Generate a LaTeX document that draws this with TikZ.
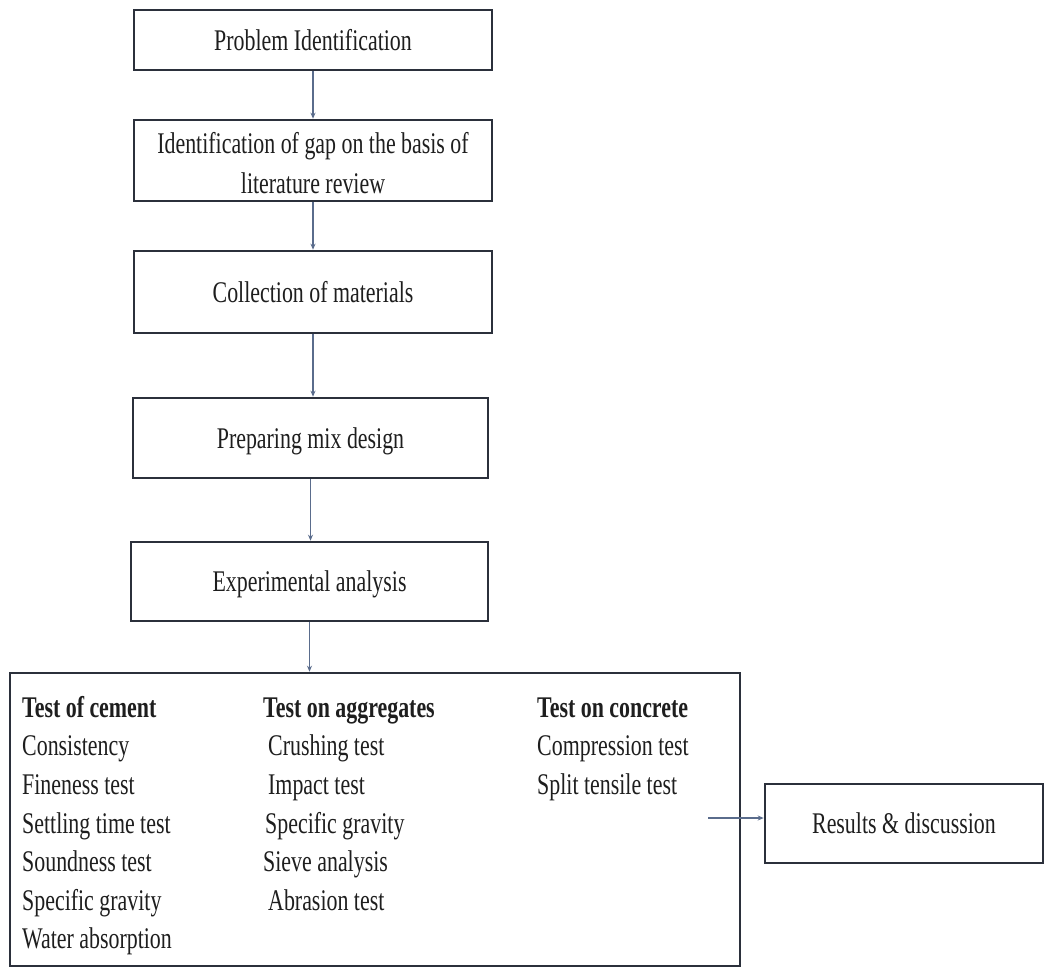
\documentclass[tikz,border=0pt]{standalone}
\usepackage{fontspec}
\setmainfont{Liberation Serif}[FakeStretch=0.73]
\usetikzlibrary{arrows.meta}
\definecolor{boxc}{HTML}{2B303B}
\definecolor{arrc}{HTML}{5A6C8C}
\definecolor{txt}{HTML}{1E1E1E}
\begin{document}
\begin{tikzpicture}[x=1pt,y=-1pt,
  box/.style={draw=boxc, line width=2.6pt, rectangle, inner sep=0pt,
    font=\fontsize{30}{40}\selectfont, text=txt, align=center},
  one/.style={box, text height=20pt, text depth=0pt},
  conn/.style={draw=arrc, line width=1.2pt, -{Stealth[length=6pt,width=5pt]}},
  col/.style={anchor=north west, inner sep=0pt, align=left,
    font=\fontsize{30}{38.6}\selectfont, text=txt}]
\useasboundingbox (0,0) rectangle (1055,969);
\fill[white] (0,0) rectangle (1055,969);

\node[one, minimum width=358pt, minimum height=60pt] (p1) at (313,40) {Problem Identification};
\node[box, minimum width=358pt, minimum height=81pt] (p2) at (313,160.5) {\rule{0pt}{27pt}Identification of gap on the basis of\\literature review};
\node[one, minimum width=358pt, minimum height=82pt] (p3) at (313,292) {Collection of materials};
\node[one, minimum width=355pt, minimum height=80pt] (p4) at (310.5,438) {Preparing mix design};
\node[one, minimum width=357pt, minimum height=79pt] (p5) at (309.5,581.5) {Experimental analysis};
\node[box, minimum width=730pt, minimum height=293pt] (tests) at (375,819.5) {};
\node[one, minimum width=278pt, minimum height=79pt] (res) at (904,823.5) {Results \& discussion};

\node[col] (c1) at (22,696) {\rule{0pt}{21pt}\textbf{Test of cement}\\Consistency\\Fineness test\\Settling time test\\Soundness test\\Specific gravity\\Water absorption};
\node[col] (c2) at (263,696) {\rule{0pt}{21pt}\textbf{Test on aggregates}\\\hspace*{5pt}Crushing test\\\hspace*{5pt}Impact test\\\hspace*{2pt}Specific gravity\\Sieve analysis\\\hspace*{5pt}Abrasion test};
\node[col] (c3) at (537,696) {\rule{0pt}{21pt}\textbf{Test on concrete}\\Compression test\\Split tensile test};

\draw[conn] (p1.south) -- (p1.south |- p2.north);
\draw[conn] (p2.south) -- (p2.south |- p3.north);
\draw[conn] (p3.south) -- (p3.south |- p4.north);
\draw[conn] (p4.south) -- (p4.south |- p5.north);
\draw[conn] (p5.south) -- (p5.south |- tests.north);
\coordinate (astart) at (708,818);
\draw[conn] (astart) -- (astart -| res.west);
\end{tikzpicture}
\end{document}
